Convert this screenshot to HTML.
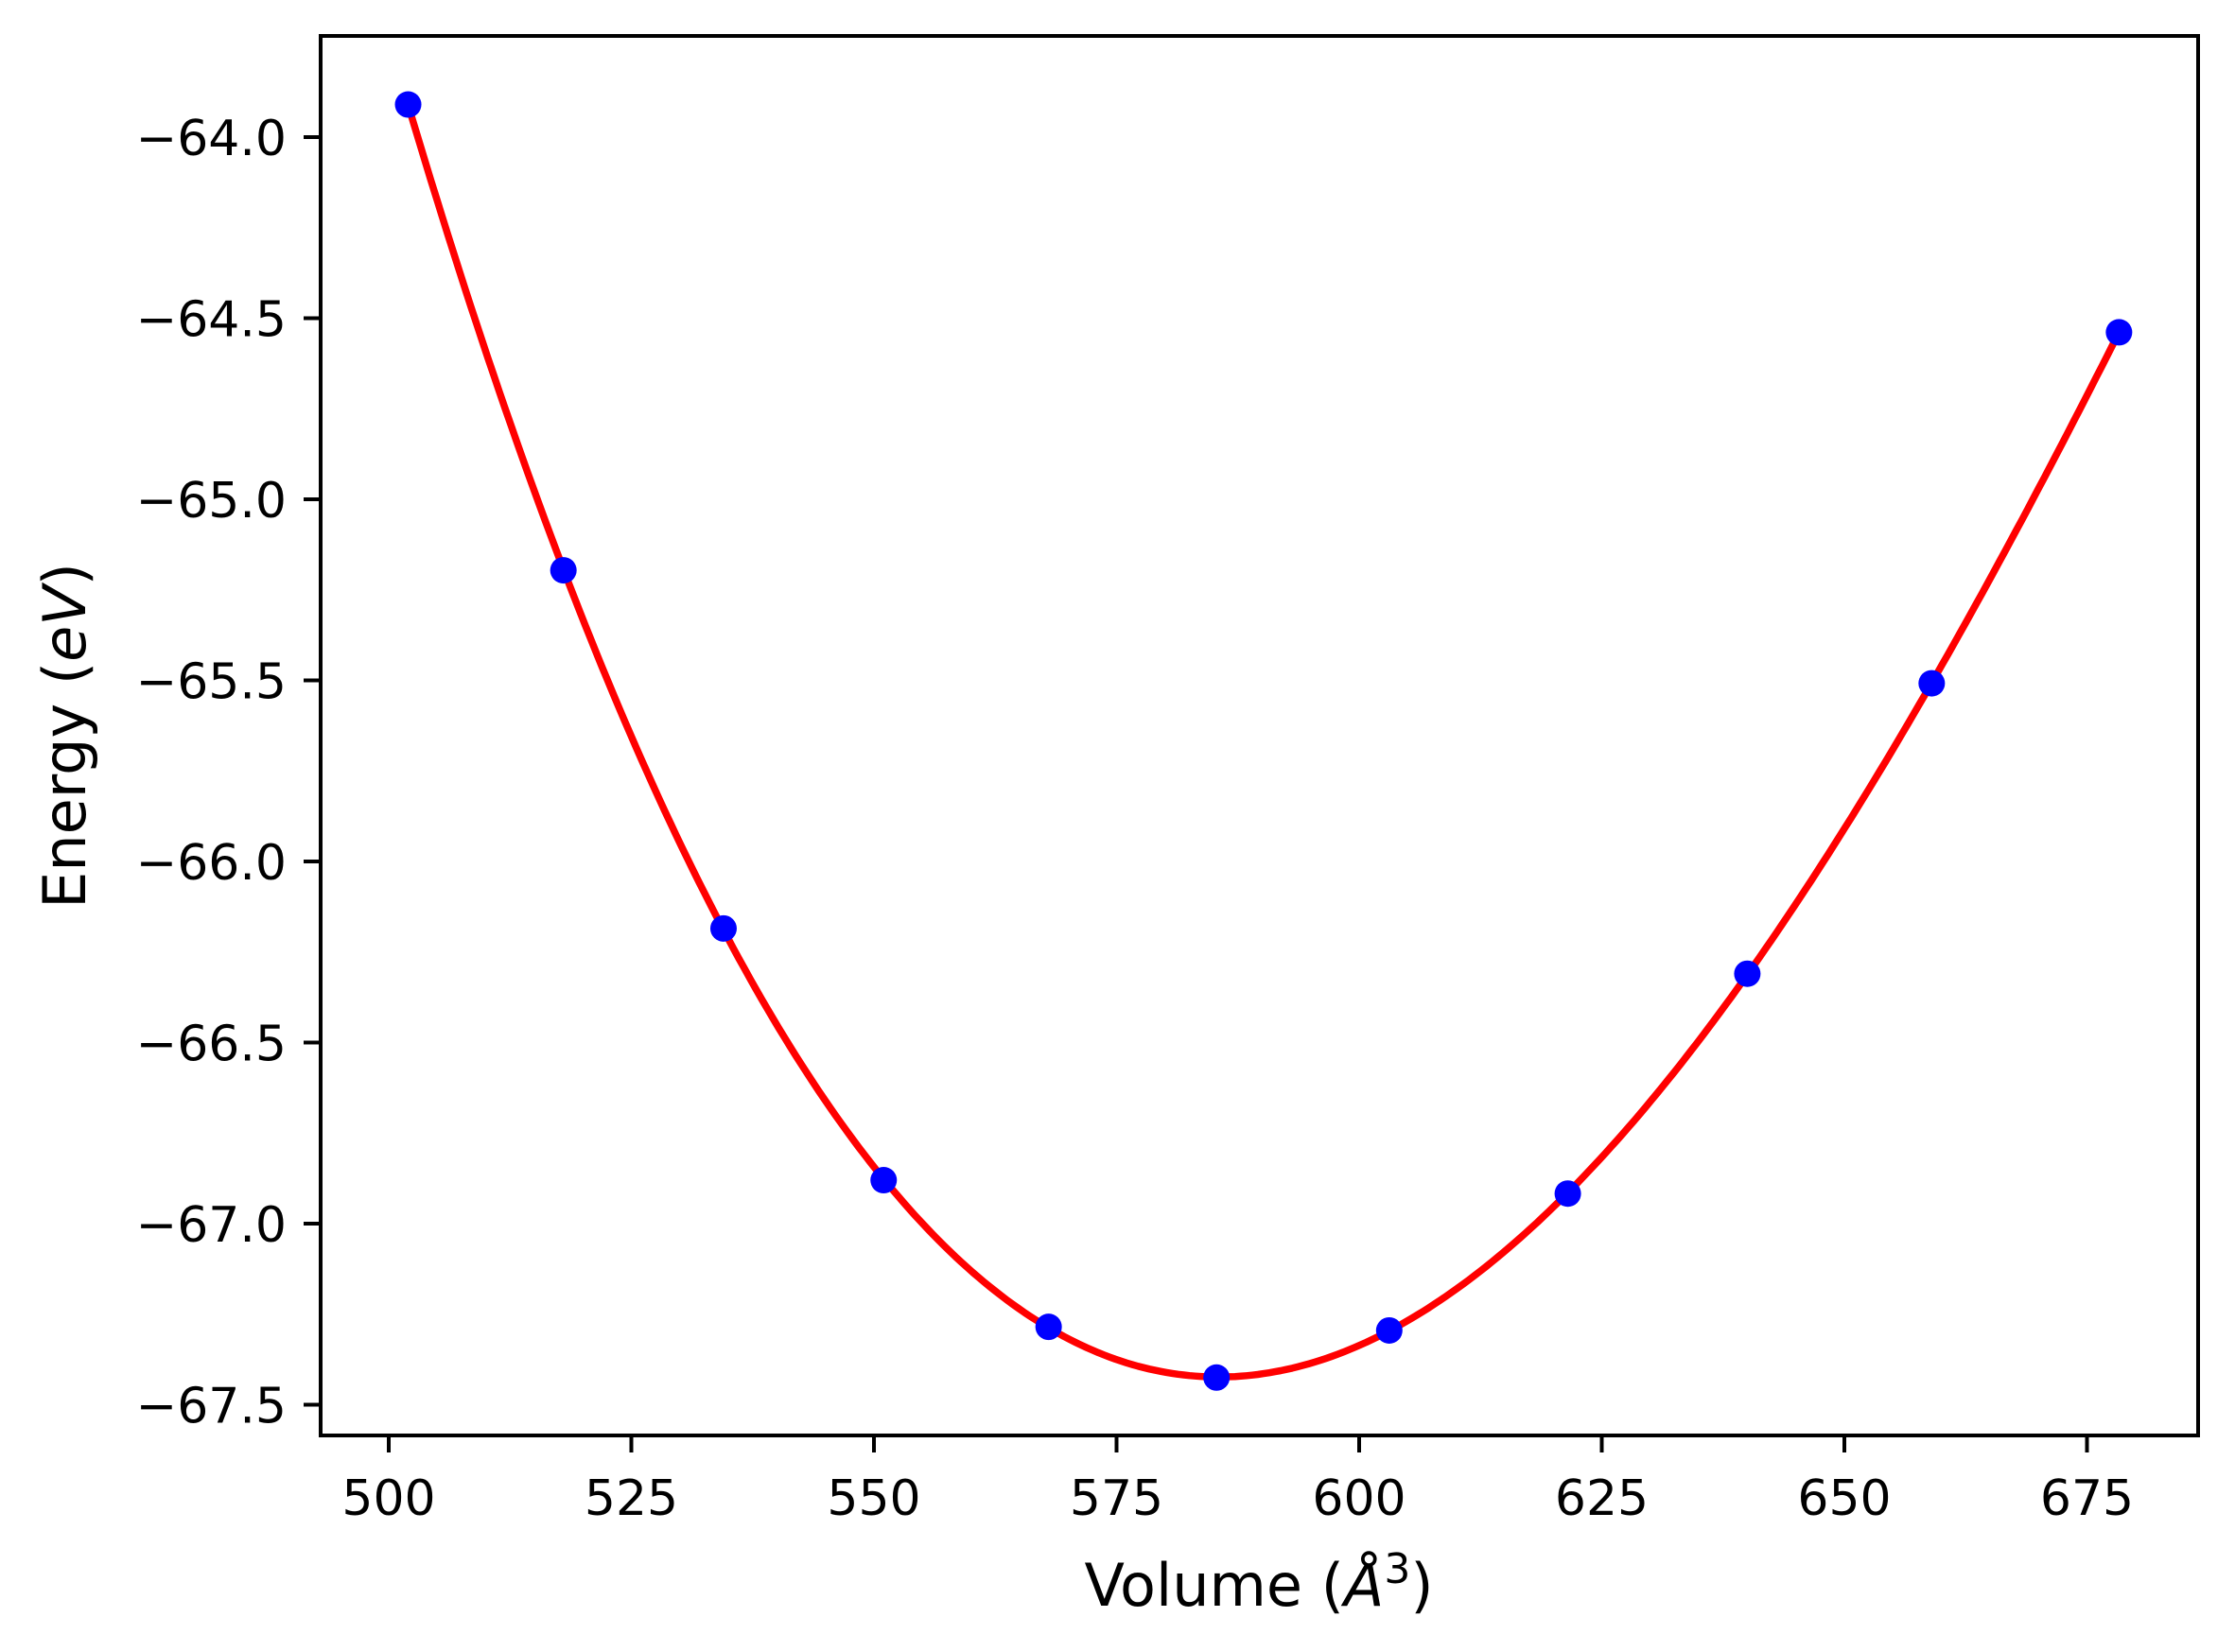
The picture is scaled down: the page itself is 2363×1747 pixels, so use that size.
<!DOCTYPE html>
<html><head><meta charset="utf-8"><style>
html,body{margin:0;padding:0;background:#fff;}
svg{display:block;font-family:"DejaVu Sans","Liberation Sans",sans-serif;}
</style></head><body>
<svg id="chart" width="2363" height="1747" viewBox="0 0 2363 1747" xmlns="http://www.w3.org/2000/svg">
<rect x="0" y="0" width="2363" height="1747" fill="#fff"/>
<g id="xticks"></g>
<g id="yticks"></g>
<g id="series"></g>
<rect x="339" y="38" width="1985" height="1480" fill="none" stroke="#000" stroke-width="4"/>
<text x="1331" y="1698" font-size="62" text-anchor="middle">Volume (<tspan font-style="italic">Å</tspan><tspan font-size="44" dy="-24">3</tspan><tspan dy="24">)</tspan></text>
<text transform="translate(90,778) rotate(-90)" font-size="62" text-anchor="middle">Energy (<tspan font-style="italic">eV</tspan>)</text>
</svg>
<script>
const volumes = [502.0, 518.0, 534.5, 551.0, 568.0, 585.3, 603.1, 621.5, 640.0, 659.0, 678.3];
const energies = [-63.91, -65.196, -66.185, -66.88, -67.285, -67.425, -67.295, -66.917, -66.31, -65.508, -64.539];
const xTicks = [500, 525, 550, 575, 600, 625, 650, 675];
const yTicks = [-64.0, -64.5, -65.0, -65.5, -66.0, -66.5, -67.0, -67.5];

const NS = "http://www.w3.org/2000/svg";
function xs(v){ return 411 + (v - 500) * 10.26; }
function ys(e){ return 145 + (-64 - e) * 383; }
function mk(tag, attrs, parent){ const el = document.createElementNS(NS, tag); for (const k in attrs) el.setAttribute(k, attrs[k]); parent.appendChild(el); return el; }

const gx = document.getElementById('xticks');
xTicks.forEach(t => {
  const l = mk('line', {x1: xs(t), x2: xs(t), y1: 1518, y2: 1536, stroke: '#000', 'stroke-width': 4}, gx);
  
  
  const tx = mk('text', {x: xs(t), y: 1602, 'font-size': 52, 'text-anchor': 'middle'}, gx);
  tx.textContent = String(t);
  
  
});
const gy = document.getElementById('yticks');
yTicks.forEach(t => {
  const l = mk('line', {x1: 321, x2: 339, y1: ys(t), y2: ys(t), stroke: '#000', 'stroke-width': 4}, gy);
  
  
  const tx = mk('text', {x: 303, y: ys(t) + 19, 'font-size': 52, 'text-anchor': 'end'}, gy);
  tx.textContent = '\u2212' + Math.abs(t).toFixed(1);
  
  
});

// cubic least-squares fit of E(V)
function fit(xv, yv, deg){
  const n = deg + 1, m = xv.length, c = 590;
  const A = [], b = [];
  for (let i = 0; i < n; i++){ A.push(new Array(n).fill(0)); b.push(0); }
  for (let k = 0; k < m; k++){
    const u = (xv[k] - c) / 100;
    for (let i = 0; i < n; i++){
      b[i] += Math.pow(u, i) * yv[k];
      for (let j = 0; j < n; j++) A[i][j] += Math.pow(u, i + j);
    }
  }
  for (let i = 0; i < n; i++){
    let p = i; for (let r = i + 1; r < n; r++) if (Math.abs(A[r][i]) > Math.abs(A[p][i])) p = r;
    [A[i], A[p]] = [A[p], A[i]]; [b[i], b[p]] = [b[p], b[i]];
    for (let r = i + 1; r < n; r++){ const f = A[r][i] / A[i][i]; for (let j = i; j < n; j++) A[r][j] -= f * A[i][j]; b[r] -= f * b[i]; }
  }
  const co = new Array(n).fill(0);
  for (let i = n - 1; i >= 0; i--){ let s = b[i]; for (let j = i + 1; j < n; j++) s -= A[i][j] * co[j]; co[i] = s / A[i][i]; }
  return v => { const u = (v - c) / 100; let s = 0; for (let i = 0; i < n; i++) s += co[i] * Math.pow(u, i); return s; };
}
const f = fit(volumes, energies, 4);
const gs = document.getElementById('series');
const v0 = volumes[0], v1 = volumes[volumes.length - 1];
let d = '';
for (let i = 0; i <= 300; i++){
  const v = v0 + (v1 - v0) * i / 300;
  d += (i ? 'L' : 'M') + xs(v).toFixed(1) + ',' + ys(f(v)).toFixed(1);
}
const path = mk('path', {d: d, fill: 'none', stroke: '#ff0000', 'stroke-width': 7.5, 'stroke-linejoin': 'round'}, gs);


volumes.forEach((v, i) => {
  const c = mk('circle', {cx: xs(v), cy: ys(energies[i]), r: 14, fill: '#0000ff'}, gs);
  
  
});
</script>
</body></html>
